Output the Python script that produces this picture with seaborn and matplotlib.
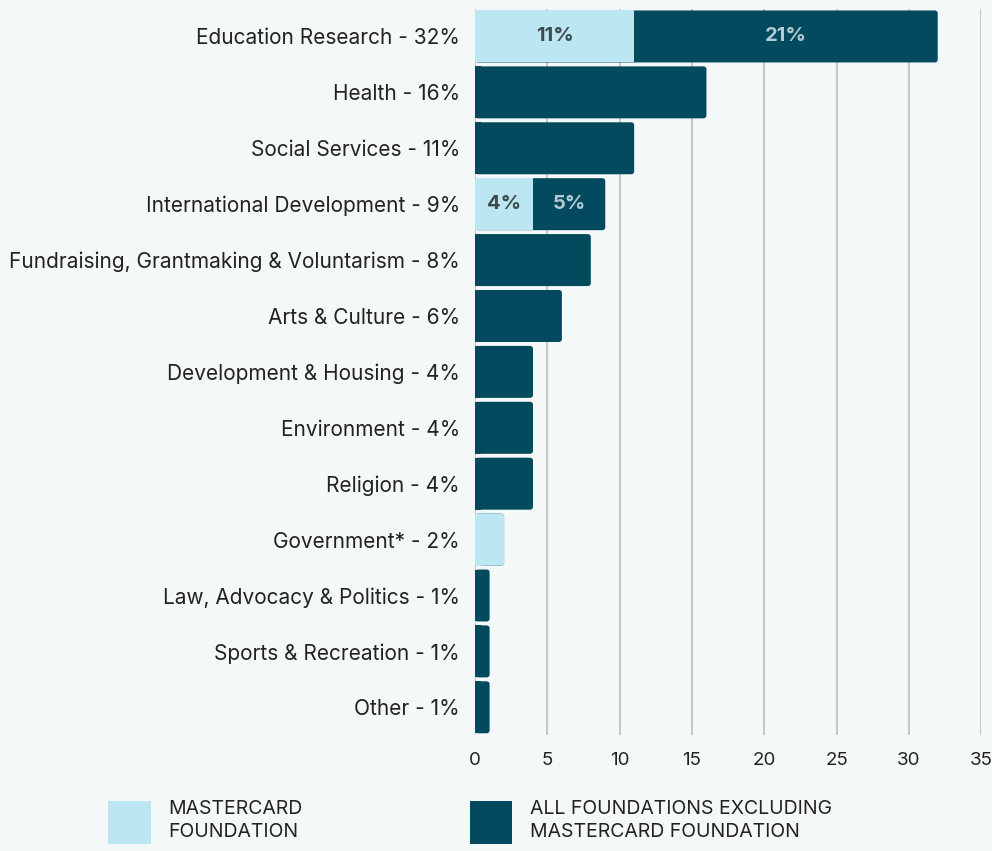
import seaborn as sns
import matplotlib.pyplot as plt
import pandas as pd
from matplotlib.patches import Patch, FancyBboxPatch

# dados
categorias = [
    "Education Research - 32%", "Health - 16%", "Social Services - 11%",
    "International Development - 9%", "Fundraising, Grantmaking & Voluntarism - 8%",
    "Arts & Culture - 6%", "Development & Housing - 4%", "Environment - 4%",
    "Religion - 4%", "Government* - 2%", "Law, Advocacy & Politics - 1%",
    "Sports & Recreation - 1%", "Other - 1%",
]
mastercard = [11, 0, 0, 4, 0, 0, 0, 0, 0, 2, 0, 0, 0]
outras = [21, 16, 11, 5, 8, 6, 4, 4, 4, 0, 1, 1, 1]
legenda = ["MASTERCARD\nFOUNDATION", "ALL FOUNDATIONS EXCLUDING\nMASTERCARD FOUNDATION"]

cor_clara = "#bde6f3"
cor_escura = "#034a5e"
fundo = "#f4f8f8"

df = pd.DataFrame({"cat": categorias, "mc": mastercard, "outras": outras})
df["total"] = df["mc"] + df["outras"]

sns.set_style("white")
plt.rcParams["font.family"] = ["Inter", "DejaVu Sans"]

fig = plt.figure(figsize=(9.92, 8.51), dpi=100, facecolor=fundo)
ax = fig.add_axes([0.479, 0.136, 0.510, 0.854], facecolor=fundo)

# barra total (escura) e por cima a parte da Mastercard (clara)
sns.barplot(data=df, x="total", y="cat", color=cor_escura, width=0.93,
            saturation=1, linewidth=0, ax=ax, zorder=2)
sns.barplot(data=df, x="mc", y="cat", color=cor_clara, width=0.93,
            saturation=1, linewidth=0, ax=ax, zorder=3)

# cantos arredondados (só onde a barra termina)
n = len(categorias)
for k, p in enumerate(list(ax.patches)):
    linha = k % n
    clara = k >= n
    if clara and outras[linha] > 0:
        continue
    if p.get_width() <= 0:
        continue
    x0, y0, w, h = p.get_x(), p.get_y(), p.get_width(), p.get_height()
    novo = FancyBboxPatch((x0, y0), w, h,
                          boxstyle="round,pad=0,rounding_size=0.22",
                          mutation_aspect=0.25, facecolor=p.get_facecolor(),
                          edgecolor="none", zorder=p.get_zorder())
    ax.add_patch(novo)
    # canto esquerdo reto
    ax.add_patch(plt.Rectangle((x0, y0), min(w, 0.4), h, facecolor=p.get_facecolor(),
                               edgecolor="none", zorder=p.get_zorder()))
    p.remove()

# rótulos nas barras com as duas partes
for i, (m, o) in enumerate(zip(mastercard, outras)):
    if m > 0 and o > 0:
        ax.text(m / 2, i, f"{m}%", ha="center", va="center", fontsize=14.5,
                fontweight="bold", color="#3d4b50", zorder=4)
        ax.text(m + o / 2, i, f"{o}%", ha="center", va="center", fontsize=14.5,
                fontweight="bold", color="#b3cbd4", zorder=4)

ax.set_xlim(0, 35)
ax.set_ylim(12.5, -0.5)
ax.set_xticks(range(0, 36, 5))
ax.xaxis.grid(True, color="#c2c2c2", linewidth=1.3, zorder=0)
ax.set_axisbelow(True)
for s in ax.spines.values():
    s.set_visible(False)
ax.tick_params(axis="x", length=6, width=1.2, colors="#c2c2c2", labelcolor="#222222",
               labelsize=13.5, pad=6)
ax.tick_params(axis="y", length=0, labelsize=15, pad=11, labelcolor="#222222")
ax.set_xlabel("")
ax.set_ylabel("")

# legenda
handles = [Patch(facecolor=cor_clara, edgecolor="none"),
           Patch(facecolor=cor_escura, edgecolor="none")]
fig.legend(handles, legenda, loc="lower left", bbox_to_anchor=(0.091, -0.012),
           ncol=2, frameon=False, handlelength=2.2, handleheight=3.03,
           handletextpad=0.9, columnspacing=8.6, fontsize=14,
           labelcolor="#222222", labelspacing=0.2)
for t in fig.legends[0].get_texts():
    t.set_linespacing(1.35)

plt.savefig("out.png", dpi=100, facecolor=fundo)
